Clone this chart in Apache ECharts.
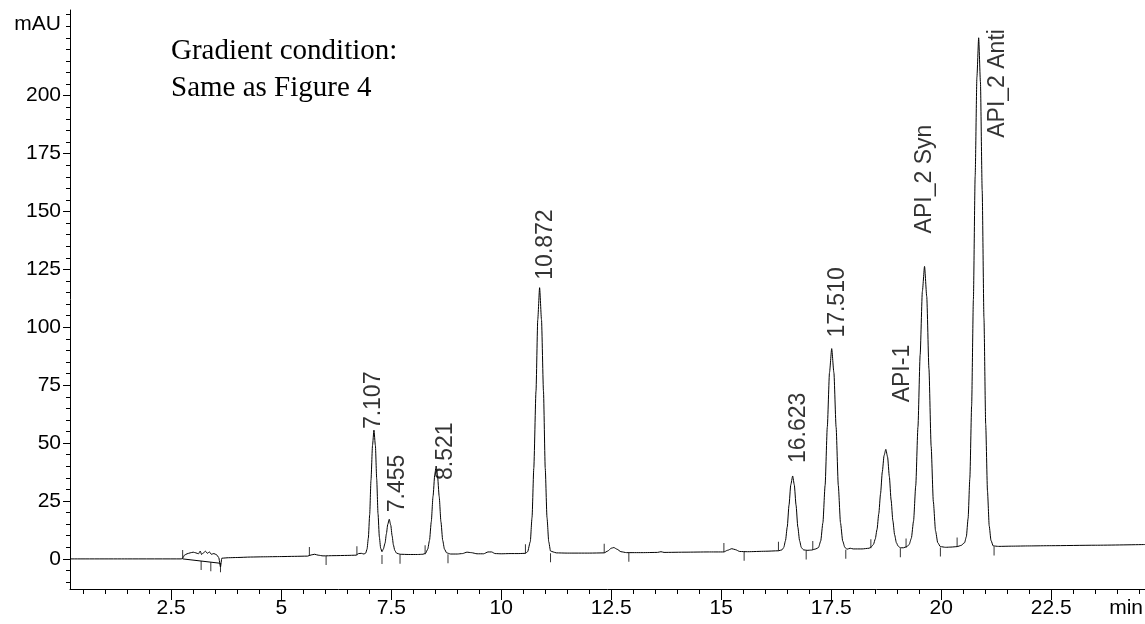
<!DOCTYPE html>
<html>
<head>
<meta charset="utf-8">
<title>Chromatogram</title>
<script src="https://cdn.jsdelivr.net/npm/echarts@6/dist/echarts.min.js"></script>
<style>
  html, body { margin: 0; padding: 0; background: #fff; }
  #chart { width: 1145px; height: 624px; }
</style>
</head>
<body>
<div id="chart"></div>
<script>
// detector trace: [retention time (min), signal (mAU)]
const trace = [
  [0.2, 0.0], [1.5, 0.0], [2.74, 0.0],
  [2.77, 0.6], [2.80, 1.6], [2.86, 2.2], [2.93, 2.6], [3.00, 2.9], [3.06, 2.6], [3.12, 2.2],
  [3.16, 3.4], [3.19, 1.9], [3.23, 2.6], [3.28, 3.3], [3.32, 2.4], [3.37, 3.0], [3.41, 2.0],
  [3.47, 2.3], [3.53, 1.8], [3.58, 0.6], [3.62, -3.5], [3.65, 0.3],
  [3.8, 0.5], [4.0, 0.6], [4.3, 0.8], [4.6, 0.9], [5.0, 1.0], [5.3, 1.1], [5.6, 1.2],
  [5.68, 1.7], [5.76, 2.0], [5.84, 1.6], [5.95, 1.3], [6.2, 1.4], [6.5, 1.5], [6.7, 1.6],
  [6.76, 2.3], [6.82, 2.4], [6.88, 2.1],
  [6.92, 2.5], [6.95, 4.2], [6.98, 9.0], [7.01, 19.0], [7.04, 34.0], [7.075, 49.0], [7.107, 55.6],
  [7.14, 49.0], [7.17, 34.5], [7.20, 19.5], [7.23, 9.5], [7.26, 4.6], [7.29, 3.1],
  [7.32, 4.2], [7.36, 6.8], [7.39, 10.8], [7.42, 14.8], [7.455, 17.1], [7.49, 14.5], [7.52, 10.0],
  [7.55, 6.0], [7.58, 3.7], [7.62, 2.5], [7.70, 2.0], [7.9, 1.9], [8.1, 1.9], [8.22, 2.0],
  [8.28, 2.4], [8.33, 4.2], [8.37, 8.0], [8.41, 16.0], [8.45, 27.0], [8.49, 36.5], [8.521, 40.1],
  [8.55, 36.5], [8.59, 27.0], [8.63, 16.0], [8.67, 8.0], [8.71, 4.2], [8.76, 2.6], [8.85, 2.1],
  [9.0, 2.1], [9.12, 2.3], [9.22, 2.9], [9.32, 2.7], [9.45, 2.2], [9.6, 2.2], [9.7, 3.0],
  [9.78, 3.0], [9.86, 2.3], [10.0, 2.2], [10.2, 2.3], [10.4, 2.3], [10.55, 2.4],
  [10.6, 3.1], [10.66, 7.4], [10.70, 17.9], [10.74, 39.1], [10.79, 72.4], [10.83, 103.3], [10.872, 117.1],
  [10.915, 103.3], [10.96, 72.4], [11.0, 39.1], [11.04, 17.9], [11.08, 7.4], [11.12, 3.4], [11.18, 3.0],
  [11.25, 2.6], [11.5, 2.5], [12.0, 2.5], [12.34, 2.6],
  [12.42, 3.4], [12.5, 4.6], [12.56, 4.9], [12.63, 4.2], [12.72, 3.1], [12.85, 2.7], [13.2, 2.7],
  [13.55, 2.8], [13.63, 3.1], [13.7, 2.8], [14.2, 2.9], [14.7, 3.0], [15.06, 3.0],
  [15.14, 3.7], [15.24, 4.4], [15.32, 4.0], [15.42, 3.2], [15.6, 3.1], [16.0, 3.3], [16.3, 3.5],
  [16.38, 3.9], [16.42, 4.9], [16.46, 7.9], [16.50, 13.8], [16.54, 23.2], [16.58, 32.0], [16.623, 35.8],
  [16.66, 32.0], [16.70, 23.2], [16.74, 13.8], [16.78, 7.9], [16.82, 4.9], [16.87, 3.9], [16.95, 3.7],
  [17.05, 3.8],
  [17.15, 4.3], [17.21, 4.9], [17.26, 7.7], [17.31, 15.6], [17.36, 31.7], [17.41, 56.9], [17.46, 80.4],
  [17.51, 90.8], [17.56, 80.4], [17.61, 56.9], [17.66, 31.7], [17.71, 15.6], [17.76, 7.7], [17.81, 4.9],
  [17.86, 4.2], [17.93, 4.6], [18.0, 4.3], [18.2, 4.3], [18.36, 4.6],
  [18.41, 5.2], [18.46, 6.3], [18.50, 8.6], [18.54, 12.7], [18.58, 19.5], [18.62, 28.1], [18.66, 37.5],
  [18.70, 44.6], [18.74, 47.3], [18.78, 44.0], [18.82, 35.6], [18.86, 25.4], [18.90, 16.5], [18.94, 10.4],
  [18.98, 7.0], [19.02, 5.5], [19.07, 4.8], [19.14, 4.8],
  [19.22, 5.3], [19.27, 6.2], [19.32, 8.9], [19.37, 16.3], [19.42, 31.6], [19.47, 56.9], [19.52, 88.1],
  [19.57, 115.4], [19.62, 126.3], [19.67, 113.3], [19.72, 82.1], [19.77, 48.6], [19.82, 24.7],
  [19.87, 12.1], [19.92, 7.0], [19.98, 5.3], [20.1, 5.0], [20.22, 5.1], [20.36, 5.3],
  [20.45, 5.8], [20.53, 7.0], [20.57, 9.6], [20.61, 17.5], [20.65, 35.0], [20.69, 66.0], [20.73, 112.0],
  [20.77, 165.0], [20.81, 208.0], [20.85, 225.0], [20.89, 206.0], [20.93, 159.0], [20.97, 104.0],
  [21.01, 58.0], [21.05, 29.4], [21.09, 14.2], [21.13, 8.0], [21.18, 5.6], [21.3, 5.4], [21.6, 5.5],
  [22.0, 5.6], [22.5, 5.7], [23.5, 5.9], [24.63, 6.2]
];

// labelled peaks
const peakTimes = [7.107, 7.455, 8.521, 10.872, 16.623, 17.510, 18.74, 19.62, 20.85];
const peakHeights = [55.6, 17.1, 40.1, 117.1, 35.8, 90.8, 47.3, 126.3, 225.0];
const peakNames = ['7.107', '7.455', '8.521', '10.872', '16.623', '17.510', 'API-1', 'API_2 Syn', 'API_2 Anti'];

// integration event marks: [time, level]
const integStarts = [[2.76, 0.0], [5.64, 1.2], [6.72, 1.6], [8.27, 2.0], [10.55, 2.4], [12.34, 2.6],
  [15.06, 3.0], [16.30, 3.5], [17.08, 3.8], [18.40, 4.6], [19.20, 4.9], [20.36, 5.3]];
const integEnds = [[3.18, -0.9], [3.40, -1.4], [3.62, -1.9], [6.02, 1.3], [7.29, 1.7], [7.70, 1.8],
  [8.79, 2.0], [11.12, 2.4], [12.90, 2.6], [15.52, 3.1], [16.93, 3.6], [17.83, 3.9], [19.07, 4.6],
  [19.98, 4.9], [21.20, 5.3]];
const integBase = [[2.76, 0.0], [3.62, -1.9]];

const xLabelTicks = [2.5, 5, 7.5, 10, 12.5, 15, 17.5, 20, 22.5];
const yLabelTicks = [0, 25, 50, 75, 100, 125, 150, 175, 200];

// label placement next to each apex: [px to the right, px gap above apex]
const labelShift = [[0, 1], [8, 7], [10, -14], [6, 8], [6, 13], [6, 11], [17, 47], [0, 33], [19, -100]];

const xMinor = [];
for (let v = 0.5; v < 24.6; v += 0.5) xMinor.push(+v.toFixed(1));
const yMinor = [];
for (let v = -10; v <= 235; v += 5) yMinor.push(v);

const sansFont = '"Liberation Sans", Arial, Helvetica, sans-serif';
const black = '#000';

const chart = echarts.init(document.getElementById('chart'));

const peakData = peakTimes.map(function (t, i) {
  return {
    value: [t, peakHeights[i]],
    name: peakNames[i],
    label: { offset: [labelShift[i][1], labelShift[i][0]] }
  };
});

const option = {
  animation: false,
  backgroundColor: '#fff',
  grid: { left: 70, right: 0, top: 10, bottom: 35 },
  xAxis: [
    {
      type: 'value', min: 0.2, max: 24.63,
      axisLine: { onZero: false, lineStyle: { color: black, width: 1 } },
      splitLine: { show: false },
      axisTick: { customValues: xLabelTicks, length: 11, lineStyle: { color: black } },
      axisLabel: { customValues: xLabelTicks, margin: 9, color: black, fontSize: 21, fontFamily: sansFont,
        formatter: function (v) { return String(v); } }
    },
    {
      type: 'value', min: 0.2, max: 24.63, position: 'bottom',
      axisLine: { show: false, onZero: false },
      splitLine: { show: false },
      axisTick: { customValues: xMinor, length: 5, lineStyle: { color: black } },
      axisLabel: { show: false }
    }
  ],
  yAxis: [
    {
      type: 'value', min: -13, max: 237,
      axisLine: { show: true, onZero: false, lineStyle: { color: black, width: 1 } },
      splitLine: { show: false },
      axisTick: { show: true, customValues: yLabelTicks, length: 7, lineStyle: { color: black } },
      axisLabel: { customValues: yLabelTicks, margin: 9, color: black, fontSize: 21, fontFamily: sansFont }
    },
    {
      type: 'value', min: -13, max: 237, position: 'left',
      axisLine: { show: false, onZero: false },
      splitLine: { show: false },
      axisTick: { show: true, customValues: yMinor, length: 4, lineStyle: { color: black } },
      axisLabel: { show: false }
    }
  ],
  graphic: [
    {
      type: 'text', left: 171, top: 33,
      style: { text: 'Gradient condition:\nSame as Figure 4', font: '29px "Liberation Serif", "Times New Roman", serif',
        lineHeight: 37, fill: black }
    },
    { type: 'text', x: 61, y: 24, style: { text: 'mAU', font: '21px ' + sansFont, fill: black, align: 'right', verticalAlign: 'middle' } },
    { type: 'text', x: 1143, y: 608, style: { text: 'min', font: '21px ' + sansFont, fill: black, align: 'right', verticalAlign: 'middle' } }
  ],
  series: [
    {
      type: 'line', data: trace, showSymbol: false, smooth: 0.2, smoothMonotone: 'x',
      lineStyle: { color: black, width: 1 }, silent: true, z: 3
    },
    {
      type: 'line', data: integBase, showSymbol: false,
      lineStyle: { color: black, width: 1 }, silent: true, z: 2
    },
    {
      type: 'scatter', data: integStarts, symbol: 'rect', symbolSize: [1, 9], symbolOffset: [0, -4.5],
      itemStyle: { color: black }, silent: true
    },
    {
      type: 'scatter', data: integEnds, symbol: 'rect', symbolSize: [1, 9], symbolOffset: [0, 4.5],
      itemStyle: { color: black }, silent: true
    },
    {
      type: 'scatter', data: peakData, symbolSize: 0, silent: true,
      itemStyle: { color: 'transparent' },
      label: {
        show: true, formatter: '{b}', position: 'inside', rotate: 90,
        align: 'left', verticalAlign: 'middle',
        color: black, fontSize: 23, fontFamily: sansFont
      }
    }
  ]
};

chart.setOption(option);
</script>
</body>
</html>
